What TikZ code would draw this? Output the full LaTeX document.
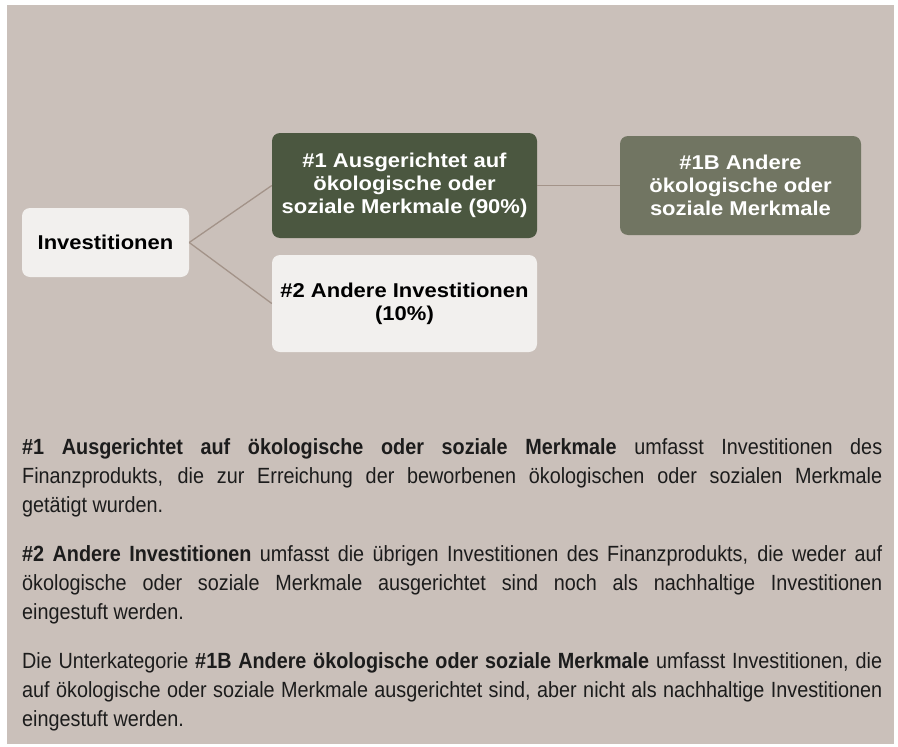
\documentclass[tikz,border=0pt]{standalone}
\usepackage{fontspec}
\usepackage{xcolor}
\usepackage{tikz}
\usetikzlibrary{positioning}
\newfontfamily\boxfont[FakeStretch=1.1]{Liberation Sans}
\newfontfamily\bodyfont[FakeStretch=0.9]{Liberation Sans}
\definecolor{taupebg}{HTML}{CAC0BA}
\definecolor{darkolive}{HTML}{4B5740}
\definecolor{midolive}{HTML}{717562}
\definecolor{paleboxfill}{HTML}{F2F0EE}
\definecolor{linktaupe}{HTML}{A39389}
\definecolor{bodyink}{HTML}{1C1C1C}

\begin{document}
\begin{tikzpicture}[x=1pt, y=-1pt,
        box/.style={rectangle, rounded corners=8pt, inner sep=0pt, align=center,
            font=\boxfont\bfseries\fontsize{20}{23}\selectfont},
        link/.style={draw=linktaupe, line width=1.3pt},
        para/.style={anchor=north west, inner sep=0pt, text width=860pt, align=justify,
            text=bodyink, font=\bodyfont\fontsize{22}{29}\selectfont}
    ]
        \useasboundingbox (0,0) rectangle (898,747);
        \fill[white] (0,0) rectangle (898,747);
        \fill[taupebg] (7,5) rectangle (894,744);

        \node[box, fill=paleboxfill, minimum width=167pt, minimum height=69pt] (inv) at (105.5,242.5) {Investitionen};
        \node[box, fill=darkolive, text=white, minimum width=265pt, minimum height=105pt] (merk) at (404.5,185.5) {
            \#1 Ausgerichtet auf\\
            ökologische oder\\
            soziale Merkmale (90\%)};
        \node[box, fill=paleboxfill, minimum width=265pt, minimum height=97pt] (other) at (404.5,303.5) {
            \#2 Andere Investitionen\\
            (10\%)};
        \node[box, fill=midolive, text=white, minimum width=241pt, minimum height=99pt] (merkb) at (740.5,185.5) {
            \#1B Andere\\
            ökologische oder\\
            soziale Merkmale};

        \draw[link] (inv.east) -- (merk.west);
        \draw[link] (inv.east) -- (other.west);
        \draw[link] (merk.east) -- (merkb.west);

        % Erlaeuterungen
        \node[para] (txta) at (22,433.7) {\hyphenpenalty=10000\strut\textbf{\#1 Ausgerichtet auf ökologische oder soziale Merkmale} umfasst Investitionen des\linebreak
            Finanzprodukts, die zur Erreichung der beworbenen ökologischen oder sozialen Merkmale\linebreak
            getätigt wurden.};
        \node[para] (txtb) at (22,540.7) {\hyphenpenalty=10000\strut\textbf{\#2 Andere Investitionen} umfasst die übrigen Investitionen des Finanzprodukts, die weder auf\linebreak
            ökologische oder soziale Merkmale ausgerichtet sind noch als nachhaltige Investitionen\linebreak
            eingestuft werden.};
        \node[para] (txtc) at (22,647.7) {\hyphenpenalty=10000\strut Die Unterkategorie \textbf{\#1B Andere ökologische oder soziale Merkmale} umfasst Investitionen, die\linebreak
            auf ökologische oder soziale Merkmale ausgerichtet sind, aber nicht als nachhaltige Investitionen\linebreak
            eingestuft werden.};
    \end{tikzpicture}
\end{document}
